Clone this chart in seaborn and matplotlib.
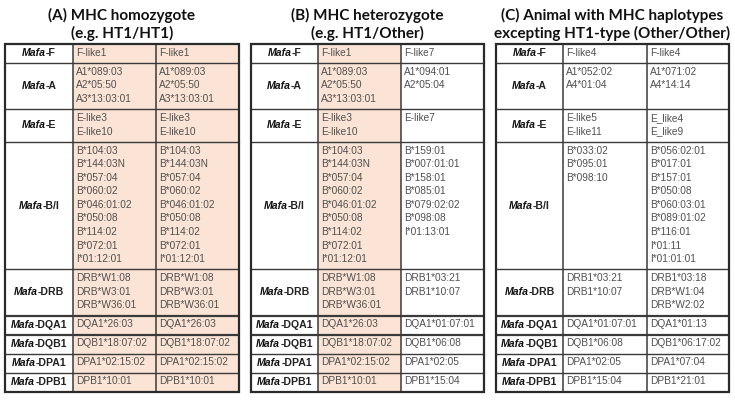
import matplotlib
matplotlib.use("Agg")
import matplotlib.pyplot as plt
import matplotlib.patches as mpatches
import seaborn as sns

# ---------------- data ----------------
genes = ["F", "A", "E", "B/I", "DRB", "DQA1", "DQB1", "DPA1", "DPB1"]
row_lines = [1, 3, 2, 9, 3, 1, 1, 1, 1]

titles = [
    ["(A) MHC homozygote", "(e.g. HT1/HT1)"],
    ["(B) MHC heterozygote", "(e.g. HT1/Other)"],
    ["(C) Animal with MHC haplotypes", "excepting HT1-type (Other/Other)"],
]

ht1 = [["F-like1"],
       ["A1*089:03", "A2*05:50", "A3*13:03:01"],
       ["E-like3", "E-like10"],
       ["B*104:03", "B*144:03N", "B*057:04", "B*060:02", "B*046:01:02",
        "B*050:08", "B*114:02", "B*072:01", "I*01:12:01"],
       ["DRB*W1:08", "DRB*W3:01", "DRB*W36:01"],
       ["DQA1*26:03"], ["DQB1*18:07:02"], ["DPA1*02:15:02"], ["DPB1*10:01"]]

other_b = [["F-like7"],
           ["A1*094:01", "A2*05:04"],
           ["E-like7"],
           ["B*159:01", "B*007:01:01", "B*158:01", "B*085:01", "B*079:02:02",
            "B*098:08", "I*01:13:01"],
           ["DRB1*03:21", "DRB1*10:07"],
           ["DQA1*01:07:01"], ["DQB1*06:08"], ["DPA1*02:05"], ["DPB1*15:04"]]

other_c1 = [["F-like4"],
            ["A1*052:02", "A4*01:04"],
            ["E-like5", "E-like11"],
            ["B*033:02", "B*095:01", "B*098:10"],
            ["DRB1*03:21", "DRB1*10:07"],
            ["DQA1*01:07:01"], ["DQB1*06:08"], ["DPA1*02:05"], ["DPB1*15:04"]]

other_c2 = [["F-like4"],
            ["A1*071:02", "A4*14:14"],
            ["E_like4", "E_like9"],
            ["B*056:02:01", "B*017:01", "B*157:01", "B*050:08", "B*060:03:01",
             "B*089:01:02", "B*116:01", "I*01:11", "I*01:01:01"],
            ["DRB1*03:18", "DRB*W1:04", "DRB*W2:02"],
            ["DQA1*01:13"], ["DQB1*06:17:02"], ["DPA1*07:04"], ["DPB1*21:01"]]

panel_cols = [[ht1, ht1], [ht1, other_b], [other_c1, other_c2]]
panel_shade = [[True, True], [True, False], [False, False]]

# ---------------- layout ----------------
sns.set_theme(style="white")
plt.rcParams["font.family"] = ["Liberation Sans", "DejaVu Sans"]

W, H = 735, 401
fig = plt.figure(figsize=(W / 100, H / 100), dpi=100)
ax = fig.add_axes([0, 0, 1, 1])
ax.set_xlim(0, W)
ax.set_ylim(H, 0)
ax.axis("off")

panel_x = [(5, 73, 156, 239), (251, 318, 401, 484), (496, 563, 647, 729)]
top, bottom = 44.0, 391.5
line_h, pad = 13.6, 5.4
heights = [line_h * n + pad for n in row_lines]
scale = (bottom - top) / sum(heights)
heights = [h * scale for h in heights]
edges = [top]
for h in heights:
    edges.append(edges[-1] + h)

shade = "#FBE4D5"
txt_col = "#505050"
line_col = "#3a3a3a"

fig.canvas.draw()
renderer = fig.canvas.get_renderer()

for p in range(3):
    x0, x1, x2, x3 = panel_x[p]
    cx = (x0 + x3) / 2
    ax.text(cx, 15.5, titles[p][0], ha="center", va="center", fontsize=11,
            fontweight="bold", family=["Lato", "DejaVu Sans"], color="#111111")
    ax.text(cx, 33, titles[p][1], ha="center", va="center", fontsize=11,
            fontweight="bold", family=["Lato", "DejaVu Sans"], color="#111111")
    # shading
    for ci, (xa, xb) in enumerate([(x1, x2), (x2, x3)]):
        if panel_shade[p][ci]:
            ax.add_patch(mpatches.Rectangle((xa, top), xb - xa, bottom - top,
                                            facecolor=shade, edgecolor="none", zorder=0))
    # horizontal lines
    for i, y in enumerate(edges[1:-1], start=1):
        lw = 1.6 if i in (5, 6) else 1.0
        ax.plot([x0, x3], [y, y], color=line_col, lw=lw, zorder=2)
    # vertical lines
    for x in (x1, x2):
        ax.plot([x, x], [top, bottom], color=line_col, lw=1.1, zorder=2)
    ax.add_patch(mpatches.Rectangle((x0, top), x3 - x0, bottom - top, facecolor="none",
                                    edgecolor="#2a2a2a", lw=1.6, zorder=3))
    # gene labels
    for r, g in enumerate(genes):
        yc = (edges[r] + edges[r + 1]) / 2
        lc = (x0 + x1) / 2
        t1 = ax.text(0, yc, "Mafa", ha="left", va="center", fontsize=7.6,
                     fontweight="bold", fontstyle="italic", color="#111111")
        t2 = ax.text(0, yc, "-" + g, ha="left", va="center", fontsize=7.6,
                     fontweight="bold", color="#222222")
        w1 = t1.get_window_extent(renderer).width
        w2 = t2.get_window_extent(renderer).width
        start = lc - (w1 + w2) / 2
        t1.set_x(start)
        t2.set_x(start + w1)
    # alleles
    for ci, xa in enumerate((x1, x2)):
        col = panel_cols[p][ci]
        for r, vals in enumerate(col):
            for k, v in enumerate(vals):
                y = edges[r] + 8.8 + k * line_h * scale
                ax.text(xa + 3, y, v, ha="left", va="center", fontsize=7.3,
                        color=txt_col)

fig.savefig("out.png", dpi=100, facecolor="white")
